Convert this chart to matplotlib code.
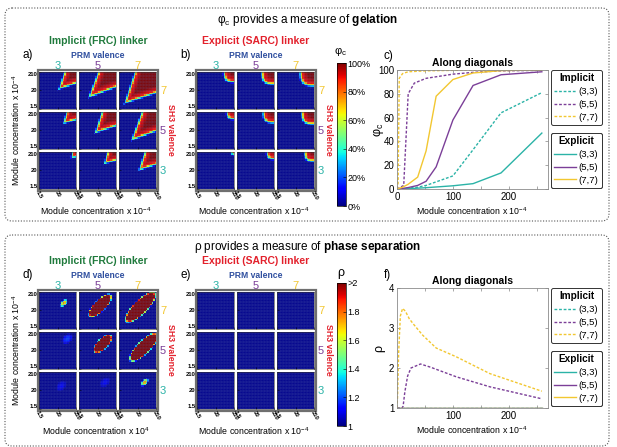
import numpy as np
import matplotlib
matplotlib.use("Agg")
import matplotlib.pyplot as plt
from matplotlib.patches import FancyBboxPatch, Rectangle
from matplotlib.cm import ScalarMappable
from matplotlib.colors import Normalize

plt.rcParams['font.family'] = ['Liberation Sans', 'DejaVu Sans']
plt.rcParams['mathtext.fontset'] = 'custom'
plt.rcParams['mathtext.rm'] = 'Liberation Sans'
plt.rcParams['mathtext.it'] = 'Liberation Sans:italic'
plt.rcParams['mathtext.bf'] = 'Liberation Sans:bold'

# ---- data -------------------------------------------------------------
sh3_val = [7, 5, 3]          # heatmap rows, top to bottom
prm_val = [3, 5, 7]          # heatmap columns
conc_ticks = [1.5, 20, 210]
conc_ticklabels = ['1.5', '20', '210']

# implicit gelation wedges (apex position in unit log-space, opening)
imp_gel_apex_a = [[0.55, 0.28, 0.17], [0.67, 0.45, 0.35], [0.88, 0.70, 0.55]]
imp_gel_apex_b = [[0.55, 0.33, 0.17], [0.70, 0.45, 0.25], [0.85, 0.70, 0.52]]
imp_gel_open = [[0.50, 0.45, 0.50], [0.55, 0.50, 0.45], [0.70, 0.60, 0.50]]
# explicit gelation: corner blob size
exp_gel_radius = [[0.27, 0.33, 0.37], [0.19, 0.29, 0.33], [0.07, 0.19, 0.25]]
# implicit rho: ellipse centre, half length, half width, height
imp_rho_ca = [[0.67, 0.57, 0.58], [0.76, 0.64, 0.67], [0.60, 0.70, 0.69]]
imp_rho_cb = [[0.70, 0.63, 0.59], [0.81, 0.68, 0.59], [0.62, 0.72, 0.72]]
imp_rho_len = [[0.13, 0.40, 0.54], [0.16, 0.31, 0.50], [0.16, 0.16, 0.13]]
imp_rho_wid = [[0.07, 0.15, 0.18], [0.11, 0.14, 0.17], [0.11, 0.11, 0.07]]
imp_rho_amp = [[0.65, 3.0, 3.0], [0.15, 3.0, 3.0], [0.08, 0.08, 0.65]]
rho_base = 1.015
exp_rho_level = 1.015

# along diagonals, phi_c (%)
c_imp33_x = [0, 10, 20, 37, 52, 70, 100, 136, 186, 259]
c_imp33_y = [0, 0.3, 0.7, 1.5, 3, 6, 11, 33, 64, 81]
c_imp55_x = [0, 12, 20, 31, 52, 100, 136, 186, 259]
c_imp55_y = [0, 3, 80, 89, 93, 96.5, 98, 99.3, 99.7]
c_imp77_x = [0, 2, 4, 10, 20, 52, 100, 186, 259]
c_imp77_y = [0, 5, 93, 97, 98.5, 99.3, 99.7, 99.9, 100]
c_exp33_x = [0, 20, 37, 52, 70, 100, 136, 186, 259]
c_exp33_y = [0, 0.3, 0.7, 1.1, 1.7, 2.7, 4.5, 13.5, 47]
c_exp55_x = [0, 10, 20, 37, 52, 70, 100, 136, 186, 259]
c_exp55_y = [0, 0.5, 1.2, 3, 6.5, 18.6, 58, 87, 96, 98.5]
c_exp77_x = [0, 10, 20, 37, 52, 70, 100, 136, 186, 259]
c_exp77_y = [0, 1.5, 4, 10, 32, 78, 92, 97.5, 99.5, 100]

# along diagonals, rho
f_imp33_x = [0, 52, 100, 186, 259]
f_imp33_y = [1, 1, 1, 1, 1]
f_imp55_x = [0, 9, 11, 14, 19, 25, 42, 60, 106, 166, 259]
f_imp55_y = [1, 1, 1.05, 1.4, 1.8, 2.0, 2.1, 2.02, 1.78, 1.53, 1.23]
f_imp77_x = [0, 1, 3, 6, 10, 15, 22, 31, 46, 70, 106, 166, 259]
f_imp77_y = [1, 1.3, 2.4, 3.3, 3.49, 3.42, 3.23, 3.07, 2.82, 2.5, 2.28, 1.86, 1.42]
f_exp33_x = [0, 259]
f_exp33_y = [1, 1]
f_exp55_x = [0, 259]
f_exp55_y = [1, 1]
f_exp77_x = [0, 259]
f_exp77_y = [1, 1]

teal = '#2bb3a7'
purple = '#7b3f98'
yellow = '#f2c731'
green_txt = '#1f7a3c'
red_txt = '#e3202b'
blue_txt = '#2f4f9f'

# ---- figure -----------------------------------------------------------
W, H = 617, 447
fig = plt.figure(figsize=(W / 100, H / 100), dpi=100)
bg = fig.add_axes([0, 0, 1, 1])
bg.set_xlim(0, W)
bg.set_ylim(H, 0)
bg.axis('off')
bg.set_zorder(-1)


def box(x, y, w, h):
    return [x / W, 1 - (y + h) / H, w / W, h / H]


def txt(x, y, s, **kw):
    kw.setdefault('ha', 'center')
    kw.setdefault('va', 'center')
    bg.text(x, y, s, **kw)


for y0, y1 in [(8, 221), (235, 446)]:
    bg.add_patch(FancyBboxPatch((5, y0), 604, y1 - y0,
                                boxstyle='round,pad=0,rounding_size=7',
                                fill=False, ls=(0, (1, 1.5)), lw=0.8, ec='#555555'))

txt(308, 20, r"φ$_\mathrm{c}$ provides a measure of $\bf{gelation}$", fontsize=8.5)
txt(308, 247, r"ρ provides a measure of $\bf{phase\ separation}$", fontsize=8.5)

conc = np.geomspace(1.5, 210, 26)
mid = np.sqrt(conc[:-1] * conc[1:])
u = np.log(mid / 1.5) / np.log(140)
A, B = np.meshgrid(u, u)


def ramp(m):
    lo = 0.015 + 0.865 * np.clip((m + 0.04) / 0.09, 0, 1)
    return lo + 0.12 * np.clip((m - 0.05) / 0.15, 0, 1)


def imp_gel(i, j):
    da = A - imp_gel_apex_a[i][j]
    db = B - imp_gel_apex_b[i][j]
    p = (da + db) / np.sqrt(2)
    q = (da - db) / np.sqrt(2)
    return ramp(imp_gel_open[i][j] * p - np.abs(q))


def exp_gel(i, j):
    d = ((1 - A) ** 3 + (1 - B) ** 3) ** (1 / 3)
    return ramp(exp_gel_radius[i][j] - d)


def imp_rho(i, j):
    da = A - imp_rho_ca[i][j]
    db = B - imp_rho_cb[i][j]
    p = (da + db) / np.sqrt(2)
    q = (da - db) / np.sqrt(2)
    e = (p / imp_rho_len[i][j]) ** 2 + (q / imp_rho_wid[i][j]) ** 2
    return rho_base + imp_rho_amp[i][j] * np.clip(1.15 - e, 0, None)


def exp_rho(i, j):
    return np.full_like(A, exp_rho_level)


def grid(x0, y0, func, vmin, vmax, letter, title, tcol, ylab, xlab):
    for i in range(3):
        for j in range(3):
            ax = fig.add_axes(box(x0 + j * 40, y0 + i * 40, 37, 37))
            ax.pcolormesh(conc, conc, func(i, j), cmap='jet', vmin=vmin, vmax=vmax,
                          edgecolors=(0.4, 0.45, 0.7, 0.08), linewidth=0.2)
            ax.set_xscale('log')
            ax.set_yscale('log')
            ax.set_xlim(1.5, 210)
            ax.set_ylim(1.5, 210)
            ax.set_xticks(conc_ticks)
            ax.set_yticks(conc_ticks)
            ax.minorticks_off()
            ax.tick_params(direction='in', length=1.5, width=0.4, labelsize=4.2, pad=1)
            if j == 0:
                ylabs = ax.set_yticklabels(conc_ticklabels, fontweight='bold')
                ylabs[0].set_va('bottom')
                ylabs[2].set_va('top')
            else:
                ax.set_yticklabels([])
            ax.set_xticklabels(conc_ticklabels if i == 2 else [], fontweight='bold',
                               rotation=-60, ha='left', rotation_mode='anchor')
            for s in ax.spines.values():
                s.set_linewidth(0.4)
                s.set_color('#333333')
    bg.add_patch(Rectangle((x0 - 1.5, y0 - 2), 120.5, 120.5, fill=False,
                           ec='#6f6f6f', lw=1.6))
    cols = [teal, purple, yellow]
    txt(x0 + 59, y0 - 31, title, color=tcol, fontsize=7.5, fontweight='bold')
    txt(x0 - 11, y0 - 17, letter, fontsize=8.5)
    txt(x0 + 59, y0 - 16, 'PRM valence', color=blue_txt, fontsize=6.2, fontweight='bold')
    for j in range(3):
        txt(x0 + 18.5 + 40 * j, y0 - 6, str(prm_val[j]), color=cols[j], fontsize=8)
    rc = {7: yellow, 5: purple, 3: teal}
    for i in range(3):
        txt(x0 + 124, y0 + 18.5 + 40 * i, str(sh3_val[i]), color=rc[sh3_val[i]], fontsize=8)
    txt(x0 + 131, y0 + 58, 'SH3 valence', color=red_txt, fontsize=6.3,
        fontweight='bold', rotation=-90)
    txt(x0 + 57, y0 + 139, xlab, fontsize=6.3)
    if ylab:
        txt(16, y0 + 58, ylab, fontsize=6.3, rotation=90)


lab4 = 'Module concentration x 10$^{-4}$'
grid(39, 72, imp_gel, 0, 1, 'a)', 'Implicit (FRC) linker', green_txt, lab4, lab4)
grid(197, 72, exp_gel, 0, 1, 'b)', 'Explicit (SARC) linker', red_txt, None, lab4)
grid(39, 292, imp_rho, 1, 2, 'd)', 'Implicit (FRC) linker', green_txt, lab4,
     'Module concentration x 10$^{4}$')
grid(197, 292, exp_rho, 1, 2, 'e)', 'Explicit (SARC) linker', red_txt, None, lab4)

# colorbars
cax = fig.add_axes(box(337, 63, 9, 143))
cb = fig.colorbar(ScalarMappable(Normalize(0, 1), 'jet'), cax=cax)
cb.set_ticks([0, 0.2, 0.4, 0.6, 0.8, 1.0])
cb.set_ticklabels(['0%', '20%', '40%', '60%', '80%', '100%'])
txt(341, 52, r"φ$_\mathrm{c}$", fontsize=8)
cax2 = fig.add_axes(box(337, 283, 9, 143))
cb2 = fig.colorbar(ScalarMappable(Normalize(1, 2), 'jet'), cax=cax2)
cb2.set_ticks([1, 1.2, 1.4, 1.6, 1.8, 2.0])
cb2.set_ticklabels(['1', '1.2', '1.4', '1.6', '1.8', '>2'])
txt(341, 273, 'ρ', fontsize=9)
for c in (cb, cb2):
    c.ax.tick_params(labelsize=6.5, length=2, width=0.4, pad=1, direction='in')
    c.outline.set_linewidth(0.5)


def line_panel(rect, series, ylim, yticks, ylabel, letter, ly):
    ax = fig.add_axes(box(*rect))
    hs = []
    for x, y, col, ls in series:
        h, = ax.plot(x, y, color=col, ls=ls, lw=1.0)
        hs.append(h)
    ax.set_xlim(0, 270)
    ax.set_ylim(*ylim)
    ax.set_yticks(yticks)
    ax.set_xticks([50, 150, 250], minor=True)
    ax.tick_params(which='both', direction='in', top=True, right=True, length=2,
                   width=0.4, labelsize=7, pad=2, color='#666666')
    for s in ax.spines.values():
        s.set_linewidth(0.6)
        s.set_color('#8a8a8a')
    ax.set_title('Along diagonals', fontsize=7.5, fontweight='bold', pad=3)
    txt(rect[0] - 18, rect[1] + rect[3] / 2, ylabel, fontsize=9, rotation=90)
    txt(rect[0] - 9, ly, letter, fontsize=8.5)
    txt(rect[0] + 75, rect[1] + rect[3] + 22, lab4, fontsize=6.3)
    names = ['(3,3)', '(5,5)', '(7,7)']
    for k, (ttl, yb) in enumerate([('Implicit', rect[1]), ('Explicit', rect[1] + 63)]):
        leg = ax.legend(hs[3 * k:3 * k + 3], names, title=ttl,
                        loc='upper left', mode='expand',
                        bbox_to_anchor=(551 / W, 1 - (yb + 58) / H, 51 / W, 58 / H),
                        bbox_transform=fig.transFigure,
                        fontsize=6.8, title_fontproperties={'weight': 'bold', 'size': 7.2},
                        handlelength=2.3, handletextpad=0.2, borderpad=0.35,
                        labelspacing=0.4, fancybox=True, framealpha=1,
                        edgecolor='#333333', borderaxespad=0)
        leg.get_frame().set_linewidth(0.7)
        ax.add_artist(leg)
    return ax


axc = line_panel((397, 70, 151, 119),
                 [(c_imp33_x, c_imp33_y, teal, (0, (2, 1.3))),
                  (c_imp55_x, c_imp55_y, purple, (0, (2, 1.3))),
                  (c_imp77_x, c_imp77_y, yellow, (0, (2, 1.3))),
                  (c_exp33_x, c_exp33_y, teal, '-'),
                  (c_exp55_x, c_exp55_y, purple, '-'),
                  (c_exp77_x, c_exp77_y, yellow, '-')],
                 (0, 100), [0, 20, 40, 60, 80, 100], r"φ$_\mathrm{c}$", 'c)', 56)
axc.set_xticks([0, 100, 200])

axf = line_panel((397, 288, 151, 120),
                 [(f_imp33_x, f_imp33_y, teal, (0, (2, 1.3))),
                  (f_imp55_x, f_imp55_y, purple, (0, (2, 1.3))),
                  (f_imp77_x, f_imp77_y, yellow, (0, (2, 1.3))),
                  (f_exp33_x, f_exp33_y, teal, '-'),
                  (f_exp55_x, f_exp55_y, purple, '-'),
                  (f_exp77_x, f_exp77_y, yellow, '-')],
                 (1, 4), [1, 2, 3, 4], 'ρ', 'f)', 275)
axf.set_xticks([100, 200])

fig.savefig('out.png', dpi=100)
